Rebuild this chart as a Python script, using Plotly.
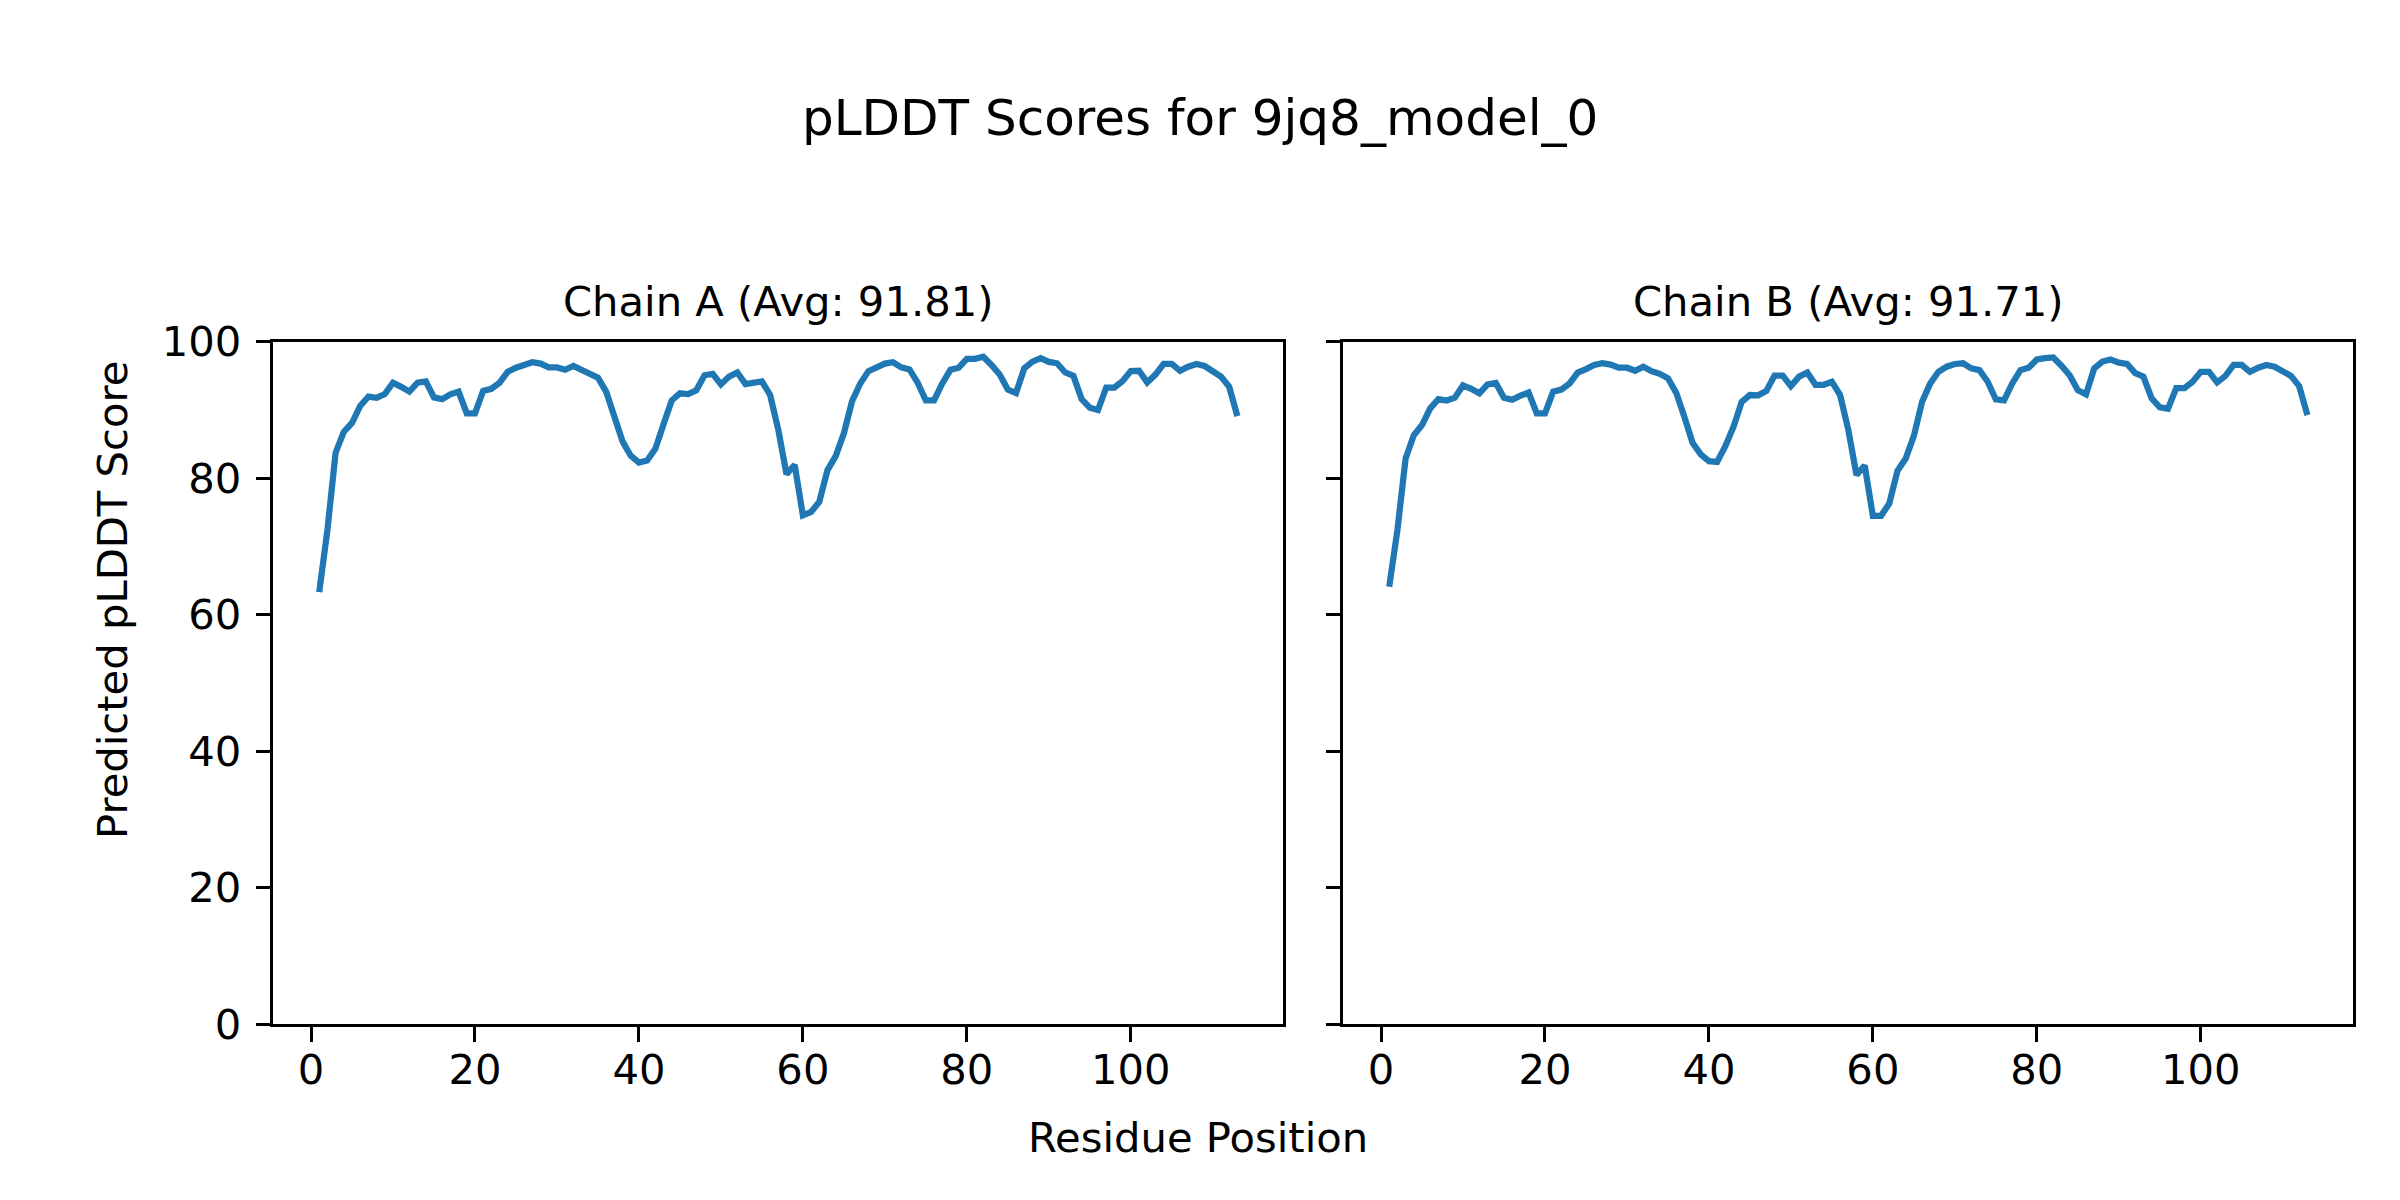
import plotly.graph_objects as go

residues = list(range(1, 114))

chain_a = [63.3, 72.4, 83.75, 86.8, 88.1, 90.6, 91.96, 91.8, 92.35, 94.0,
           93.4, 92.7, 94.0, 94.2, 91.85, 91.6, 92.3, 92.7, 89.5, 89.5,
           92.8, 93.1, 94.0, 95.6, 96.2, 96.7, 97.0, 96.8, 96.25, 96.25,
           95.9, 96.45, 95.8, 95.3, 94.75, 92.7, 89.2, 85.4, 83.3, 82.3,
           82.6, 84.3, 87.9, 91.4, 92.45, 92.35, 92.9, 95.1, 95.3, 93.75,
           94.9, 95.5, 93.8, 93.9, 94.2, 92.2, 87.1, 80.6, 81.95, 74.55,
           75.05, 76.55, 81.2, 83.25, 86.6, 91.3, 93.9, 95.7, 96.35, 96.8,
           97.0, 96.25, 95.95, 94.0, 91.4, 91.4, 93.9, 95.9, 96.2, 97.5,
           97.5, 97.8, 96.6, 95.2, 93.0, 92.5, 96.1, 97.1, 97.6, 97.05,
           96.85, 95.5, 95.0, 91.6, 90.35, 90.0, 93.3, 93.3, 94.25, 95.7,
           95.75, 94.05, 95.2, 96.75, 96.75, 95.75, 96.35, 96.75, 96.45, 95.75,
           94.9, 93.4, 89.1]

chain_b = [64.1, 72.4, 82.9, 86.3, 87.8, 90.25, 91.6, 91.4, 91.8, 93.6,
           93.1, 92.45, 93.75, 93.95, 91.8, 91.5, 92.1, 92.55, 89.5, 89.5,
           92.7, 93.0, 93.9, 95.5, 96.0, 96.6, 96.85, 96.65, 96.2, 96.2,
           95.75, 96.35, 95.7, 95.3, 94.65, 92.55, 89.0, 85.2, 83.5, 82.5,
           82.4, 84.7, 87.55, 91.2, 92.2, 92.15, 92.8, 95.05, 95.05, 93.5,
           94.9, 95.5, 93.7, 93.7, 94.15, 92.2, 87.1, 80.5, 81.85, 74.5,
           74.5, 76.3, 81.1, 82.9, 86.2, 91.2, 93.9, 95.6, 96.35, 96.75,
           96.85, 96.1, 95.85, 94.15, 91.55, 91.4, 93.9, 95.85, 96.2, 97.4,
           97.6, 97.7, 96.5, 95.1, 92.9, 92.3, 96.1, 97.1, 97.4, 96.95,
           96.75, 95.4, 94.9, 91.7, 90.4, 90.2, 93.2, 93.2, 94.15, 95.6,
           95.6, 94.05, 95.0, 96.6, 96.6, 95.6, 96.2, 96.6, 96.35, 95.6,
           95.0, 93.5, 89.25]

chain_titles = ["Chain A (Avg: 91.81)", "Chain B (Avg: 91.71)"]
y_ticks = [0, 20, 40, 60, 80, 100]
x_ticks = [0, 20, 40, 60, 80, 100]

FONT = "DejaVu Sans"
W, H = 2400, 1200
OFF = 8  # page body offset compensation (px)
color = "#1f77b4"


def px_x(v):
    return (v - OFF) / W


def px_y(v):
    return 1 - (v - OFF) / H


fig = go.Figure()
fig.add_trace(go.Scatter(x=residues, y=chain_a, mode="lines",
                         line=dict(color=color, width=6.25),
                         xaxis="x", yaxis="y", showlegend=False))
fig.add_trace(go.Scatter(x=residues, y=chain_b, mode="lines",
                         line=dict(color=color, width=6.25),
                         xaxis="x2", yaxis="y2", showlegend=False))

xa = [px_x(273.3), px_x(1283.3)]
xb = [px_x(1343.3), px_x(2353.3)]
yd = [px_y(1024), px_y(341.8)]

common_x = dict(range=[-4.6, 118.6], tickmode="array", tickvals=x_ticks,
                ticks="outside", ticklen=14.6, tickwidth=3.3, tickcolor="black",
                showline=True, linewidth=3.3, linecolor="black", mirror=True,
                showgrid=False, zeroline=False, ticklabelstandoff=-8,
                automargin=False,
                tickfont=dict(family=FONT, size=41.7, color="black"))
common_y = dict(range=[0, 100], tickmode="array", tickvals=y_ticks,
                ticks="outside", ticklen=14.6, tickwidth=3.3, tickcolor="black",
                showline=True, linewidth=3.3, linecolor="black", mirror=True,
                showgrid=False, zeroline=False, ticklabelstandoff=6,
                automargin=False,
                tickfont=dict(family=FONT, size=41.7, color="black"))

fig.update_layout(
    width=W, height=H, autosize=False,
    margin=dict(l=0, r=0, t=0, b=0, pad=0, autoexpand=False),
    paper_bgcolor="white", plot_bgcolor="white",
    xaxis=dict(domain=xa, anchor="y", **common_x),
    yaxis=dict(domain=yd, anchor="x", **common_y),
    xaxis2=dict(domain=xb, anchor="y2", **common_x),
    yaxis2=dict(domain=yd, anchor="x2", showticklabels=False, **common_y),
)

annotations = [
    dict(text="pLDDT Scores for 9jq8_model_0", x=px_x(1200), y=px_y(118),
         xref="paper", yref="paper", xanchor="center", yanchor="middle",
         showarrow=False, font=dict(family=FONT, size=50, color="black")),
    dict(text=chain_titles[0], x=(xa[0] + xa[1]) / 2, y=px_y(301),
         xref="paper", yref="paper", xanchor="center", yanchor="middle",
         showarrow=False, font=dict(family=FONT, size=41.7, color="black")),
    dict(text=chain_titles[1], x=(xb[0] + xb[1]) / 2, y=px_y(301),
         xref="paper", yref="paper", xanchor="center", yanchor="middle",
         showarrow=False, font=dict(family=FONT, size=41.7, color="black")),
    dict(text="Residue Position", x=px_x(1198), y=px_y(1137),
         xref="paper", yref="paper", xanchor="center", yanchor="middle",
         showarrow=False, font=dict(family=FONT, size=41.7, color="black")),
    dict(text="Predicted pLDDT Score", x=px_x(112), y=px_y(600),
         xref="paper", yref="paper", xanchor="center", yanchor="middle",
         textangle=-90,
         showarrow=False, font=dict(family=FONT, size=41.7, color="black")),
]
fig.update_layout(annotations=annotations)

fig.write_html("out.html", config={"responsive": False},
               default_width="2400px", default_height="1200px")
